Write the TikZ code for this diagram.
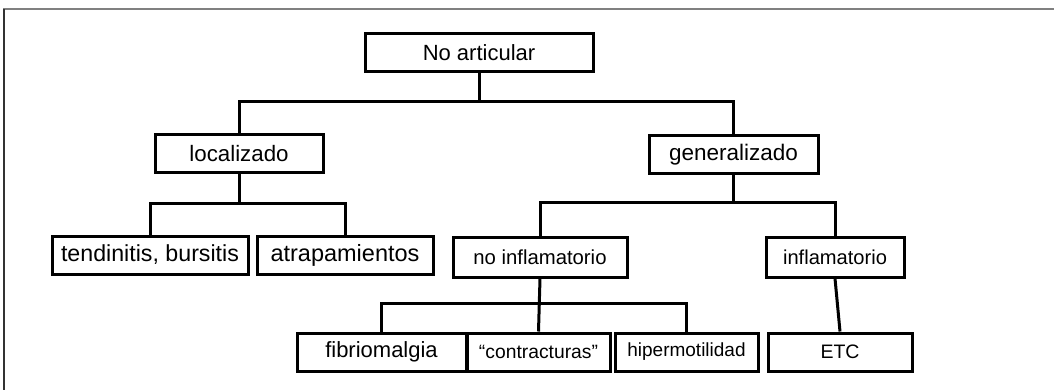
\documentclass[tikz,border=0pt]{standalone}
\usepackage{fontspec}
\setmainfont{Liberation Sans}
\usepackage{tikz}

% label size
\newcommand{\fsz}[1]{\fontsize{#1}{#1}\selectfont}

\begin{document}
\begin{tikzpicture}[x=1pt, y=-1pt,
    box/.style={rectangle, draw, line width=3pt, minimum height=38pt, inner sep=0pt, font=\fsz{22}},
    link/.style={line width=3pt}]
    \useasboundingbox (0,0) rectangle (1054,390);
    \draw[line width=2pt, gray] (3,9) -- (1054,9);
    \draw[line width=2pt, black!80] (3.5,9) -- (3.5,390);

    \node at (479,52.5) [box, minimum width=228pt] (Top) {No articular};
    \node at (239,154) [box, minimum width=168pt, font=\fsz{22.3}] (Loc) {localizado};
    \node at (733.5,154.5) [box, minimum width=169pt, font=\fsz{22.5}] (Gen) {generalizado};
    \node at (150,255) [box, minimum width=196pt, font=\fsz{23.2}] (Tend) {tendinitis, bursitis};
    \node at (345,255) [box, minimum width=176pt, font=\fsz{23.5}] (Atra) {atrapamientos};
    \node at (540,257) [box, minimum width=174pt, minimum height=40pt, font=\fsz{20.3}] (NoInf) {no inflamatorio};
    \node at (835,257) [box, minimum width=138pt, minimum height=40pt, font=\fsz{20.1}] (Inf) {inflamatorio};
    \node at (381.5,352) [box, minimum width=169pt] (Fib) {fibriomalgia};
    \node at (538.5,352) [box, minimum width=143pt, font=\fsz{19.3}] (Cont) {``contracturas''};
    \node at (686.5,352) [box, minimum width=143pt, font=\fsz{19}] (Hiper) {hipermotilidad};
    \node at (840,352) [box, minimum width=144pt, font=\fsz{19.5}] (Etc) {ETC};

    \draw[link] (Top.south) -- (Top.south |- {(0,102)});
    \draw[link] (Loc.north) |- (Gen.north |- {(0,102)}) -- (Gen.north);

    \draw[link] (Loc.south) -- (Loc.south |- {(0,203)});
    \draw[link] (Tend.north) |- (Atra.north |- {(0,203)}) -- (Atra.north);

    \draw[link] (Gen.south) -- (Gen.south |- {(0,202)});
    \draw[link] (NoInf.north) |- (Inf.north |- {(0,202)}) -- (Inf.north);

    \draw[link] (NoInf.south) -- (Cont.north);
    \draw[link] (Fib.north) |- (Hiper.north |- {(0,303)}) -- (Hiper.north);
    \draw[link] (Inf.south) -- (Etc.north);
\end{tikzpicture}
\end{document}
